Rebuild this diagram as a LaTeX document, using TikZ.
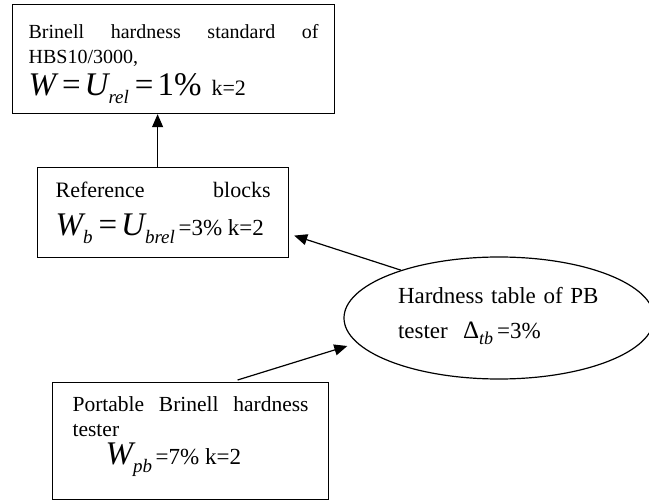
\documentclass[tikz,border=0pt]{standalone}
\usepackage{fontspec}
\setmainfont{Liberation Serif}
\usetikzlibrary{arrows.meta,shapes.geometric}
\newcommand{\bigsym}[1]{{\fontsize{33}{33}\selectfont\itshape #1}}
\newcommand{\subsym}[1]{\raisebox{-8pt}{\fontsize{19}{19}\selectfont\itshape #1}}
\newcommand{\bigeq}{{\fontsize{33}{33}\selectfont\hspace{6pt}=\hspace{4pt}}}
\newcommand{\kval}[1]{{\fontsize{23}{23}\selectfont #1}}
\newcommand{\topstrut}[1]{\rule{0pt}{#1}}
\newcommand{\botstrut}[1]{\rule[-#1]{0pt}{#1}}
\newcommand{\fixlines}{\lineskiplimit=-100pt\relax}

\begin{document}
\begin{tikzpicture}[x=1pt,y=-1pt,
  box/.style={draw,line width=1.2pt,rectangle,anchor=north west,align=justify},
  link/.style={line width=1.2pt,-{Triangle[length=13pt,width=11pt]}}]
\useasboundingbox (0,0) rectangle (649,503);
%%%%% BOXES %%%%%
\node[box,inner xsep=16pt,text width=290pt,minimum height=109pt,
  font=\fontsize{20}{25}\selectfont\fixlines] (std) at (12,4)
  {\topstrut{24.7pt}Brinell hardness standard of HBS10/3000,\\[7pt]
   \bigsym{W}\bigeq\bigsym{U}\subsym{rel}\bigeq{\fontsize{33}{33}\selectfont 1\%}\ \ {\fontsize{22}{22}\selectfont k=2}\botstrut{9pt}};
\node[box,inner xsep=18pt,text width=215pt,minimum height=90pt,
  font=\fontsize{22}{25}\selectfont\fixlines] (ref) at (37,167)
  {\topstrut{17pt}Reference \hfill blocks\\[13pt]
   \bigsym{W}\subsym{b}\bigeq\bigsym{U}\subsym{brel}\,\kval{=3\% k=2}\botstrut{9pt}};
\node[box,inner xsep=20pt,text width=236pt,minimum height=117pt,
  font=\fontsize{21.5}{25}\selectfont\fixlines] (pb) at (52,382)
  {\topstrut{16pt}Portable Brinell hardness tester\\[3pt]
   \hspace*{33pt}\bigsym{W}\subsym{pb}\,\kval{=7\% k=2}\botstrut{23pt}};
\node[draw,ellipse,line width=1.2pt,minimum width=310pt,minimum height=122pt,inner sep=0pt,
  text width=202pt,align=left,font=\fontsize{23}{35}\selectfont\fixlines] (ell) at (499,318)
  {\topstrut{17pt}Hardness table of PB\\
   tester\ \ {\fontsize{25}{25}\selectfont Δ}\raisebox{-6pt}{\fontsize{18}{18}\selectfont\itshape tb}\,=3\%\botstrut{12pt}};
%%%%% ARROWS %%%%%
\draw[link] ([xshift=-5.5pt]ref.north) -- ([xshift=-5.5pt]ref.north |- std.south);
\draw[link] (ell.154) -- ([xshift=5pt,yshift=-23pt]ref.east);
\draw[link,shorten >=10pt] ([xshift=47pt,yshift=2pt]pb.north) -- (ell.190);
\end{tikzpicture}
\end{document}
